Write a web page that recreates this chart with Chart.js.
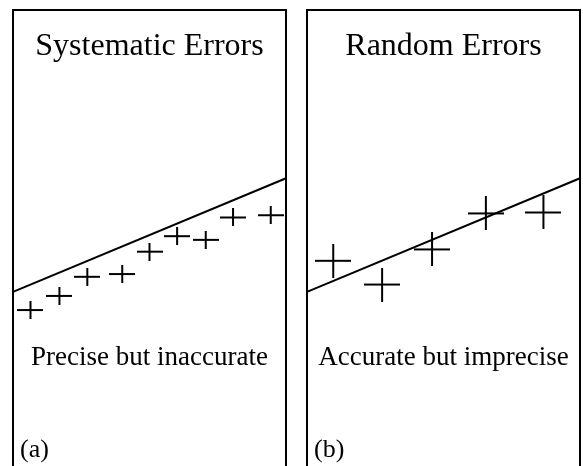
<!DOCTYPE html>
<html>
<head>
<meta charset="utf-8">
<script src="https://cdn.jsdelivr.net/npm/chart.js@4"></script>
<style>
  html, body { margin: 0; padding: 0; background: #fff; }
  body { width: 583px; height: 466px; position: relative; overflow: hidden; }
  canvas { position: absolute; top: 0; }
</style>
</head>
<body>
<canvas id="cA" width="296" height="466" style="left:0px"></canvas>
<canvas id="cB" width="287" height="466" style="left:296px"></canvas>
<script>
// ---- data (arbitrary units: x 0..10, y 0..10) ----
const panelTitles = ["Systematic Errors", "Random Errors"];
const panelCaptions = ["Precise but inaccurate", "Accurate but imprecise"];
const panelLabels = ["(a)", "(b)"];

const trueLineX = [0, 10];
const trueLineY = [3.82, 6.31];

const systematicX = [0.64, 1.70, 2.72, 4.00, 5.00, 6.01, 7.06, 8.06, 9.44];
const systematicY = [3.42, 3.73, 4.15, 4.21, 4.70, 5.04, 4.96, 5.45, 5.50];

const randomX = [0.96, 2.75, 4.58, 6.55, 8.66];
const randomY = [4.50, 3.98, 4.75, 5.54, 5.56];

// ---- cross marker images ----
function makeCross(w, h, lw) {
  const c = document.createElement('canvas');
  c.width = w; c.height = h;
  const g = c.getContext('2d');
  g.strokeStyle = '#000';
  g.lineWidth = lw;
  g.beginPath();
  g.moveTo(0, h / 2); g.lineTo(w, h / 2);
  g.moveTo(w / 2, 0); g.lineTo(w / 2, h);
  g.stroke();
  return c;
}
const smallCross = makeCross(26, 18, 2);
const bigCross = makeCross(36, 34, 2);

const SERIF = '"Liberation Serif", "Times New Roman", Times, serif';

const panelPlugin = {
  id: 'panelDecor',
  afterDraw(chart, args, opts) {
    const { ctx, chartArea: a } = chart;
    ctx.save();
    ctx.strokeStyle = '#000';
    ctx.lineWidth = 2;
    ctx.beginPath();
    ctx.moveTo(a.left, a.bottom + 10);
    ctx.lineTo(a.left, a.top);
    ctx.lineTo(a.right, a.top);
    ctx.lineTo(a.right, a.bottom + 10);
    ctx.stroke();
    ctx.fillStyle = '#000';
    ctx.textAlign = 'center';
    ctx.textBaseline = 'alphabetic';
    const cx = (a.left + a.right) / 2;
    ctx.font = '32px ' + SERIF;
    ctx.fillText(opts.title, cx, a.top + 45);
    ctx.font = '27px ' + SERIF;
    ctx.fillText(opts.caption, cx, a.top + 355);
    ctx.textAlign = 'left';
    ctx.font = '26px ' + SERIF;
    ctx.fillText(opts.label, a.left + 7, a.top + 447);
    ctx.restore();
  }
};

function makeChart(id, xs, ys, marker, idx, pad) {
  return new Chart(document.getElementById(id), {
    type: 'scatter',
    data: {
      datasets: [
        {
          type: 'line',
          data: trueLineX.map((x, i) => ({ x, y: trueLineY[i] })),
          borderColor: '#000',
          borderWidth: 2,
          pointRadius: 0,
          fill: false,
          order: 2
        },
        {
          data: xs.map((x, i) => ({ x, y: ys[i] })),
          pointStyle: marker,
          pointRadius: 10,
          showLine: false,
          order: 1
        }
      ]
    },
    options: {
      responsive: false,
      animation: false,
      devicePixelRatio: 1,
      layout: { padding: pad, autoPadding: false },
      scales: {
        x: { type: 'linear', min: 0, max: 10, display: false },
        y: { type: 'linear', min: 0, max: 10, display: false }
      },
      plugins: {
        legend: { display: false },
        tooltip: { enabled: false },
        panelDecor: { title: panelTitles[idx], caption: panelCaptions[idx], label: panelLabels[idx] }
      },
      clip: false
    },
    plugins: [panelPlugin]
  });
}

makeChart('cA', systematicX, systematicY, smallCross, 0, { left: 13, right: 10, top: 10, bottom: 0 });
makeChart('cB', randomX, randomY, bigCross, 1, { left: 11, right: 3, top: 10, bottom: 0 });
</script>
</body>
</html>
